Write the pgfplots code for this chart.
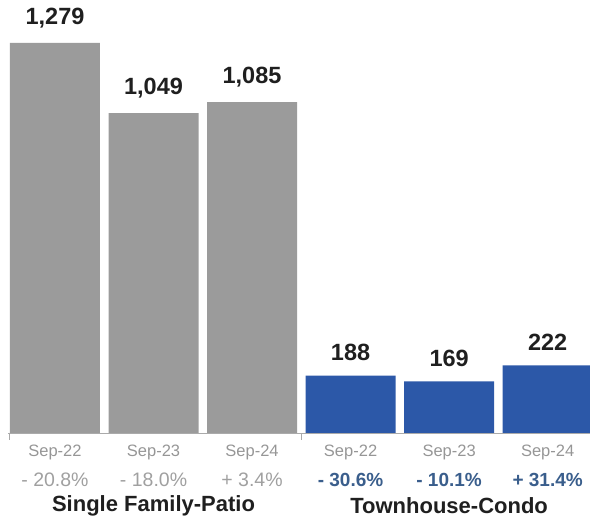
\documentclass[border=0pt]{standalone}
\usepackage{pgfplots}
\pgfplotsset{compat=1.18}
\usepackage{fontspec}
\setmainfont{Liberation Sans}
\definecolor{bargray}{RGB}{155,155,155}
\definecolor{barblue}{RGB}{44,88,168}
\definecolor{txtgray}{RGB}{150,150,150}
\definecolor{pctgray}{RGB}{160,160,160}
\definecolor{pctblue}{RGB}{58,94,140}
\definecolor{axgray}{RGB}{170,170,170}
\begin{document}
\begin{tikzpicture}
\useasboundingbox (-8pt,-88pt) rectangle (582pt,433pt);
\begin{axis}[at={(0,0)}, anchor=south west, scale only axis, width=582pt, height=433pt,
 xmin=-0.477, xmax=5.43, ymin=0, ymax=1420,
 axis y line=none, axis x line*=bottom, x axis line style={draw=axgray, -},
 ybar, bar width=90pt,
 xtick={0,...,5}, xticklabels={Sep-22,Sep-23,Sep-24,Sep-22,Sep-23,Sep-24},
 major tick length=0pt,
 xticklabel style={font=\fontsize{16.5}{18}\selectfont, text=txtgray, inner sep=0pt, yshift=-12pt},
 extra x ticks={-0.47,2.5}, extra x tick labels={},
 extra x tick style={major tick length=7pt, tick align=outside, tick style={draw=axgray}},
 /pgf/number format/assume math mode=true,
 nodes near coords,
 nodes near coords style={font=\bfseries\fontsize{23.5}{26}\selectfont, text=black!88, inner sep=0pt, anchor=south, yshift=15pt},
 clip=false]
\addplot[fill=bargray, draw=none, bar shift=0pt] coordinates {(0,1279) (1,1049) (2,1085)};
\addplot[fill=barblue, draw=none, bar shift=0pt] coordinates {(3,188) (4,169) (5,222)};
\node[font=\fontsize{19.5}{21}\selectfont, text=pctgray] at (axis cs:0,0) [yshift=-47pt] {- 20.8\%};
\node[font=\fontsize{19.5}{21}\selectfont, text=pctgray] at (axis cs:1,0) [yshift=-47pt] {- 18.0\%};
\node[font=\fontsize{19.5}{21}\selectfont, text=pctgray] at (axis cs:2,0) [yshift=-47pt] {+ 3.4\%};
\node[font=\bfseries\fontsize{19}{21}\selectfont, text=pctblue] at (axis cs:3,0) [yshift=-47pt] {- 30.6\%};
\node[font=\bfseries\fontsize{19}{21}\selectfont, text=pctblue] at (axis cs:4,0) [yshift=-47pt] {- 10.1\%};
\node[font=\bfseries\fontsize{19}{21}\selectfont, text=pctblue] at (axis cs:5,0) [yshift=-47pt] {+ 31.4\%};
\node[font=\bfseries\fontsize{22}{25}\selectfont, text=black!88] at (axis cs:1,0) [yshift=-73pt] {Single Family-Patio};
\node[font=\bfseries\fontsize{22}{25}\selectfont, text=black!88] at (axis cs:4,0) [yshift=-73pt] {Townhouse-Condo};
\end{axis}
\end{tikzpicture}
\end{document}
